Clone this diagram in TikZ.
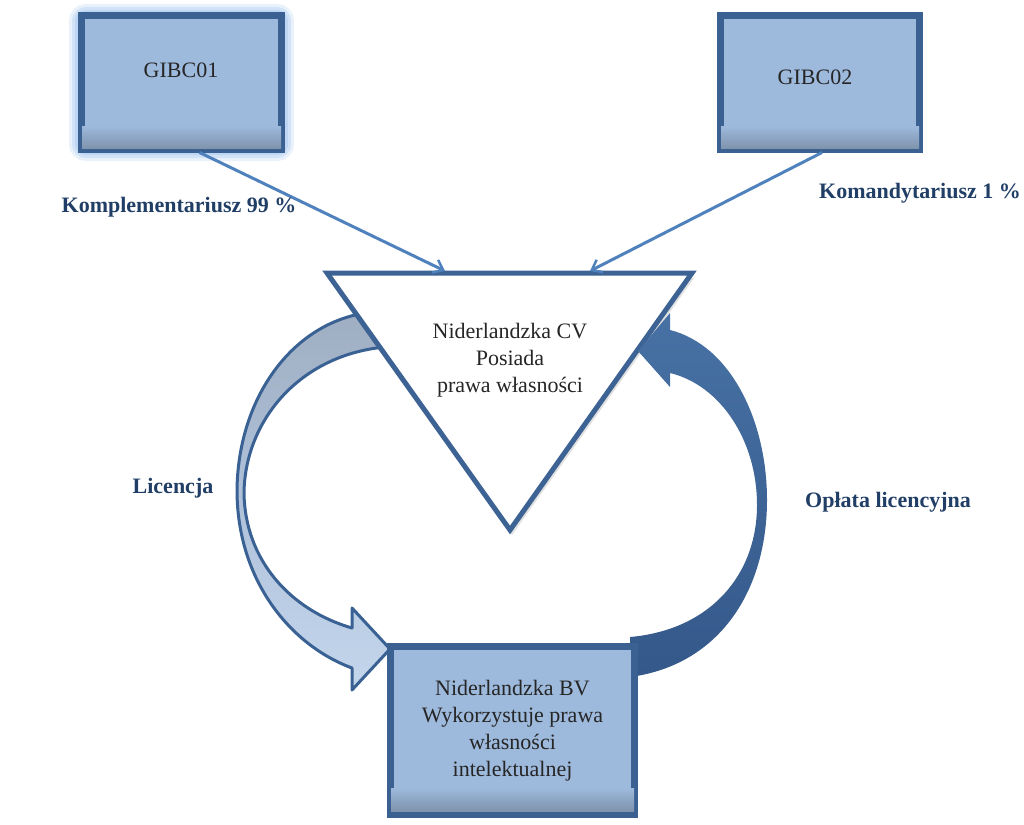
\documentclass[tikz,border=0pt]{standalone}
\usepackage{fontspec}
\setmainfont{Liberation Serif}
\usetikzlibrary{arrows.meta,shadows}
\definecolor{boxfill}{HTML}{9DB9DC}
\definecolor{boxshade}{HTML}{7F93AD}
\definecolor{boxline}{HTML}{3B6193}
\definecolor{linkcol}{HTML}{4F81BD}
\definecolor{labcol}{HTML}{213F66}
\definecolor{trline}{HTML}{3D6394}
\definecolor{arrline}{HTML}{3A6193}
\definecolor{glow}{HTML}{A9C9F0}
\definecolor{lAtop}{HTML}{9FAEC2}
\definecolor{lAmid}{HTML}{AFC2DA}
\definecolor{lAbot}{HTML}{C3D6EC}
\definecolor{rAtop}{HTML}{4771A4}
\definecolor{rAbot}{HTML}{35588A}
\begin{document}
\begin{tikzpicture}[x=1pt,y=-1pt,
  box/.style={draw=boxline,line width=7pt,fill=boxfill,inner sep=0pt},
  boxtext/.style={font=\fontsize{22}{27}\selectfont,text=black!85,align=center},
  lab/.style={font=\fontsize{22}{26}\selectfont\bfseries,text=labcol,anchor=base},
  link/.style={draw=linkcol,line width=3pt,-{Straight Barb[length=9pt,width=14pt,line width=2.5pt]}},
  glowline/.style={draw=glow,rounded corners=8pt}]
\useasboundingbox (0,0) rectangle (1024,824);
% GIBC01 with soft glow
\draw[glowline,line width=18pt,opacity=.25] (78,13) rectangle (285,152);
\draw[glowline,line width=12pt,opacity=.35] (78,13) rectangle (285,152);
\draw[glowline,line width=6pt,opacity=.5] (78,13) rectangle (285,152);
\node[box,minimum width=200pt,minimum height=133pt] (g1) at (181.5,82.5) {};
\shade[top color=boxfill,bottom color=boxshade] (82,126) rectangle (281,148.5);
\node[boxtext] (g1t) at (181,70) {GIBC01};
% GIBC02
\node[box,minimum width=199pt,minimum height=133pt] (g2) at (820,82.5) {};
\shade[top color=boxfill,bottom color=boxshade] (721,126) rectangle (919,148.5);
\node[boxtext] (g2t) at (815,77) {GIBC02};
% triangle coordinates
\coordinate (tl) at (327,273);
\coordinate (tr) at (692,273);
\coordinate (tb) at (510,530);
\coordinate (t1) at (445,271);
\coordinate (t2) at (590,271);
% left curved arrow (Licencja)
\path[draw=arrline,line width=3pt,line join=round,top color=lAtop,bottom color=lAbot,middle color=lAmid]
  (365,313) .. controls (290,325) and (238,400) .. (237,490)
  .. controls (237,580) and (290,645) .. (352,668)
  -- (352,690) -- (390,649) -- (352,608) -- (352,628)
  .. controls (290,610) and (245,560) .. (244,493)
  .. controls (245,420) and (300,355) .. (385,347) -- cycle;
% triangle
\fill[black!12] ([shift={(2,5)}]tl) -- ([shift={(2,5)}]tr) -- ([shift={(2,5)}]tb) -- cycle;
\draw[trline,line width=5pt,fill=white,line join=miter] (tl) -- (tr) -- (tb) -- cycle;
\node[boxtext] (cv) at (510,360) {Niderlandzka CV\\Posiada\\prawa własności};
% right curved arrow (Opłata licencyjna)
\shade[top color=rAtop,bottom color=rAbot]
  (630,677) .. controls (720,665) and (767,590) .. (767,500)
  .. controls (767,420) and (730,345) .. (670,330)
  -- (670,313) -- (638,351) -- (670,387) -- (670,373)
  .. controls (720,385) and (757,440) .. (757,505)
  .. controls (757,575) and (710,630) .. (630,637) -- cycle;
% bottom box
\node[box,minimum width=244pt,minimum height=168pt] (bv) at (512.5,730.5) {};
\shade[top color=boxfill,bottom color=boxshade] (391,788) rectangle (634,811);
\node[boxtext] (bvt) at (512.5,731) {Niderlandzka BV\\Wykorzystuje prawa\\własności\\intelektualnej};
% links
\draw[link] ([xshift=18pt]g1.south) -- (t1);
\draw[link] ([xshift=2pt]g2.south) -- (t2);
% labels
\node[lab] (l1) at (179,212) {Komplementariusz 99 \%};
\node[lab] (l2) at (920,198) {Komandytariusz 1 \%};
\node[lab] (l3) at (173,493) {Licencja};
\node[lab] (l4) at (888,507) {Opłata licencyjna};
\end{tikzpicture}
\end{document}
